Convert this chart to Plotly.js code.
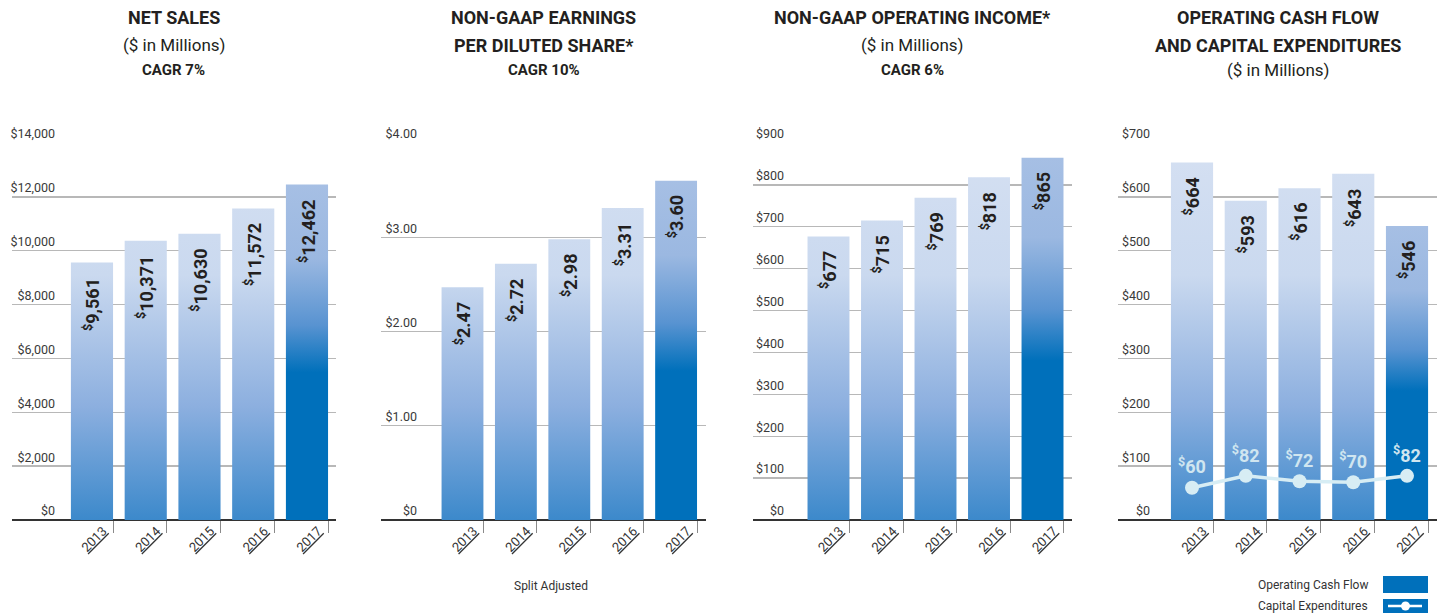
<!DOCTYPE html>
<html><head><meta charset="utf-8">
<script src="https://cdn.plot.ly/plotly-3.0.1.min.js"></script>
<style>html,body{margin:0;padding:0;background:#fff}#chart{width:1437px;height:613px}</style>
</head><body><div id="chart"></div>
<script>
// ---- data ----
const years = ['2013', '2014', '2015', '2016', '2017'];
const netSales = [9561, 10371, 10630, 11572, 12462];
const eps = [2.47, 2.72, 2.98, 3.31, 3.60];
const opIncome = [677, 715, 769, 818, 865];
const opCashFlow = [664, 593, 616, 643, 546];
const capex = [60, 82, 72, 70, 82];

const netSalesTicks = [0, 2000, 4000, 6000, 8000, 10000, 12000, 14000];
const netSalesTickText = ['$0', '$2,000', '$4,000', '$6,000', '$8,000', '$10,000', '$12,000', '$14,000'];
const epsTicks = [0, 1, 2, 3, 4];
const epsTickText = ['$0', '$1.00', '$2.00', '$3.00', '$4.00'];
const opIncomeTicks = [0, 100, 200, 300, 400, 500, 600, 700, 800, 900];
const opIncomeTickText = ['$0', '$100', '$200', '$300', '$400', '$500', '$600', '$700', '$800', '$900'];
const cashTicks = [0, 100, 200, 300, 400, 500, 600, 700];
const cashTickText = ['$0', '$100', '$200', '$300', '$400', '$500', '$600', '$700'];

const titleLines = [
  ['NET SALES', '($ in Millions)', 'CAGR 7%'],
  ['NON-GAAP EARNINGS', 'PER DILUTED SHARE*', 'CAGR 10%'],
  ['NON-GAAP OPERATING INCOME*', '($ in Millions)', 'CAGR 6%'],
  ['OPERATING CASH FLOW', 'AND CAPITAL EXPENDITURES', '($ in Millions)']
];
const titleBold = [
  [true, false, true],
  [true, true, true],
  [true, false, true],
  [true, true, false]
];
const footNote = 'Split Adjusted';
const legendNames = ['Operating Cash Flow', 'Capital Expenditures'];

// ---- styling ----
const W = 1437, H = 613;
const FONT = 'Roboto, "Liberation Sans", sans-serif';
const DARK = '#231f20';
const yDom = [1 - 520 / H, 1 - 143 / H];
const xDoms = [[12 / W, 336 / W], [381 / W, 706 / W], [753 / W, 1072 / W], [1118 / W, 1]];
const xRanges = [[-1.488, 4.54], [-1.526, 4.56], [-1.411, 4.551], [-1.377, 4.558]];
const labelRight = [56, 418, 785, 1151];
const yRanges = [[0, 14000], [0, 4], [0, 900], [0, 700]];
const tickSets = [[netSalesTicks, netSalesTickText], [epsTicks, epsTickText], [opIncomeTicks, opIncomeTickText], [cashTicks, cashTickText]];

const fmtMoney = v => '<sup>$</sup>' + v.toLocaleString('en-US');
const fmtEps = v => '<sup>$</sup>' + v.toFixed(2);

const series = [netSales, eps, opIncome, opCashFlow];
const fmts = [fmtMoney, fmtEps, fmtMoney, fmtMoney];

const layout = {
  width: W, height: H,
  margin: {l: 0, r: 0, t: 0, b: 0},
  paper_bgcolor: '#fff', plot_bgcolor: 'rgba(0,0,0,0)',
  bargap: 0.216,
  showlegend: false,
  font: {family: FONT, color: '#333'},
  annotations: [],
  shapes: []
};

const traces = series.map((vals, k) => ({
  type: 'bar',
  x: years,
  y: vals,
  xaxis: k === 0 ? 'x' : 'x' + (k + 1),
  yaxis: k === 0 ? 'y' : 'y' + (k + 1),
  marker: {color: years.map((y, i) => i === years.length - 1 ? '#0070bb' : '#8fb0df'), line: {width: 0}},
  hoverinfo: 'skip',
  showlegend: false
}));

// value labels inside the bars, rotated (category axis positions are indices)
series.forEach((vals, k) => {
  const xName = k === 0 ? 'x' : 'x' + (k + 1);
  const yName = k === 0 ? 'y' : 'y' + (k + 1);
  vals.forEach((v, i) => {
    layout.annotations.push({
      xref: xName, yref: yName, x: i, y: v,
      xanchor: 'center', yanchor: 'top', yshift: -13,
      textangle: -90, showarrow: false,
      text: fmts[k](v),
      font: {family: FONT, size: 18, color: DARK, weight: 700}
    });
  });
});

traces.push({
  type: 'scatter',
  mode: 'lines+markers+text',
  x: years,
  y: capex,
  xaxis: 'x4',
  yaxis: 'y4',
  line: {color: '#d7edf4', width: 3.5},
  marker: {color: '#d7edf4', size: 14},
  text: capex.map(v => '<sup>$</sup>' + v),
  textposition: 'top center',
  textfont: {family: FONT, size: 18, color: '#d0e6f0', weight: 700},
  cliponaxis: false,
  hoverinfo: 'skip',
  showlegend: false
});

for (let k = 0; k < 4; k++) {
  const xs = k === 0 ? 'xaxis' : 'xaxis' + (k + 1);
  const ys = k === 0 ? 'yaxis' : 'yaxis' + (k + 1);
  const yName = k === 0 ? 'y' : 'y' + (k + 1);
  const xName = k === 0 ? 'x' : 'x' + (k + 1);
  layout[xs] = {
    type: 'category', domain: xDoms[k], range: xRanges[k], anchor: yName,
    showgrid: false, zeroline: false, showline: false, ticks: '',
    tickangle: -45, ticklabelshift: 11,
    tickmode: 'array', tickvals: years,
    ticktext: years.map(y => '<span style="text-decoration:underline;text-decoration-color:#9a9a9a">' + y + '</span>'),
    tickfont: {family: FONT, size: 13, color: '#333'},
    fixedrange: true
  };
  // overlay axis carrying the small tick marks at bar right edges
  layout['xaxis' + (k + 5)] = {
    overlaying: xName, anchor: yName, type: 'linear', range: xRanges[k],
    showgrid: false, zeroline: false, showline: false, showticklabels: false,
    ticks: 'outside', ticklen: 12, tickwidth: 1, tickcolor: '#8a8a8a',
    tickmode: 'array', tickvals: years.map((y, i) => i + 0.395),
    fixedrange: true
  };
  traces.push({type: 'scatter', x: [], y: [], xaxis: 'x' + (k + 5), yaxis: yName, hoverinfo: 'skip', showlegend: false});
  layout[ys] = {
    domain: yDom, range: yRanges[k], anchor: 'free', position: (labelRight[k] - 1) / W, side: 'left',
    tickmode: 'array', tickvals: tickSets[k][0], ticktext: tickSets[k][1],
    ticks: '', showline: false,
    showgrid: true, gridcolor: '#b8b8b8', gridwidth: 1.3,
    zeroline: true, zerolinecolor: '#333', zerolinewidth: 1.5,
    ticklabelshift: -9,
    tickfont: {family: FONT, size: 12.5, color: '#3a3a3a'},
    fixedrange: true
  };
  const cx = (xDoms[k][0] + xDoms[k][1]) / 2;
  const ypx = [18, 45, 70];
  titleLines[k].forEach((t, j) => {
    const bold = titleBold[k][j];
    const isCagr = t.startsWith('CAGR');
    layout.annotations.push({
      xref: 'paper', yref: 'paper', x: cx, y: 1 - ypx[j] / H,
      xanchor: 'center', yanchor: 'middle', showarrow: false,
      text: t,
      font: {family: FONT, size: isCagr ? 15 : (bold ? 18 : 17), color: DARK, weight: bold ? 700 : 400}
    });
  });
}

// footnote and legend
layout.annotations.push({
  xref: 'paper', yref: 'paper', x: 551 / W, y: 1 - 586 / H, xanchor: 'center', yanchor: 'middle',
  showarrow: false, text: footNote, font: {family: FONT, size: 12, color: '#333'}
});
layout.annotations.push({
  xref: 'paper', yref: 'paper', x: 1370 / W, y: 1 - 585 / H, xanchor: 'right', yanchor: 'middle',
  showarrow: false, text: legendNames[0], font: {family: FONT, size: 12, color: '#333'}
});
layout.annotations.push({
  xref: 'paper', yref: 'paper', x: 1370 / W, y: 1 - 606 / H, xanchor: 'right', yanchor: 'middle',
  showarrow: false, text: legendNames[1], font: {family: FONT, size: 12, color: '#333'}
});
layout.shapes.push(
  {type: 'rect', xref: 'paper', yref: 'paper', x0: 1383 / W, x1: 1428 / W, y0: 1 - 593 / H, y1: 1 - 576 / H, fillcolor: '#0070bb', line: {width: 0}},
  {type: 'rect', xref: 'paper', yref: 'paper', x0: 1383 / W, x1: 1428 / W, y0: 0, y1: 1 - 599 / H, fillcolor: '#0070bb', line: {width: 0}},
  {type: 'line', xref: 'paper', yref: 'paper', x0: 1388 / W, x1: 1422 / W, y0: 1 - 606 / H, y1: 1 - 606 / H, line: {color: '#fff', width: 2.5}},
  {type: 'circle', xref: 'paper', yref: 'paper', x0: 1401 / W, x1: 1410 / W, y0: 1 - 610.5 / H, y1: 1 - 601.5 / H, fillcolor: '#fff', line: {width: 0}}
);

const gd = document.getElementById('chart');
Plotly.newPlot(gd, traces, layout, {displayModeBar: false, staticPlot: true}).then(() => {
  const NS = 'http://www.w3.org/2000/svg';
  const svg = gd.querySelector('.main-svg');
  let defs = svg.querySelector('defs');
  if (!defs) { defs = document.createElementNS(NS, 'defs'); svg.insertBefore(defs, svg.firstChild); }
  const plotH = gd._fullLayout.yaxis._length;
  function grad(id, attrs, stops) {
    const g = document.createElementNS(NS, 'linearGradient');
    g.setAttribute('id', id);
    Object.keys(attrs).forEach(a => g.setAttribute(a, attrs[a]));
    stops.forEach(s => {
      const st = document.createElementNS(NS, 'stop');
      st.setAttribute('offset', s[0]);
      st.setAttribute('stop-color', s[1]);
      g.appendChild(st);
    });
    defs.appendChild(g);
  }
  grad('gLight', {gradientUnits: 'userSpaceOnUse', x1: 0, y1: 0, x2: 0, y2: plotH},
    [[0, '#d5e0f2'], [0.35, '#cad9ef'], [0.7, '#8cafdf'], [1, '#3c89cb']]);
  grad('gDark', {x1: 0, y1: 0, x2: 0, y2: 1},
    [[0, '#a6bfe4'], [0.22, '#9bb8e1'], [0.42, '#5893d1'], [0.56, '#0070bb'], [1, '#0070bb']]);
  gd.querySelectorAll('.barlayer .trace.bars').forEach(tr => {
    const pts = tr.querySelectorAll('.point path');
    pts.forEach((p, i) => {
      p.style.fill = (i === pts.length - 1) ? 'url(#gDark)' : 'url(#gLight)';
    });
  });
});
</script>
</body></html>
